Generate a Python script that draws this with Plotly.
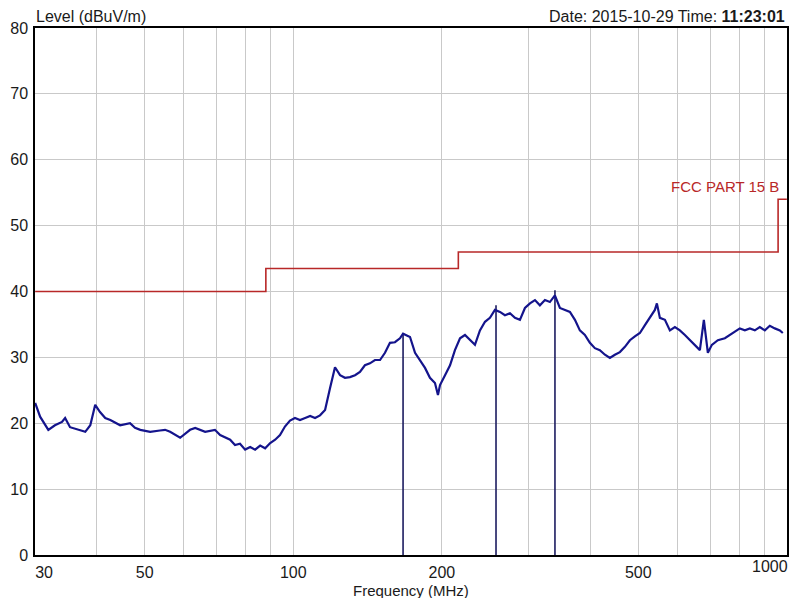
import plotly.graph_objects as go

# Measured trace (frequency in MHz, level in dBuV/m)
freq_mhz = [30.0, 30.7, 31.9, 32.9, 34.0, 34.5, 35.3, 37.0, 37.9, 38.8, 39.7, 40.6, 41.6, 42.6,
            44.6, 46.7, 47.8, 49.0, 51.3, 53.7, 55.0, 56.3, 59.0, 61.8, 63.3, 66.3, 69.4, 71.1,
            74.5, 76.2, 78.0, 79.9, 81.8, 83.7, 85.7, 87.7, 89.8, 91.9, 94.0, 96.2, 98.5, 100.8,
            103.2, 105.7, 108.2, 110.7, 113.3, 116.0, 117.6, 118.7, 121.5, 124.4, 127.3, 130.3,
            133.4, 136.5, 139.7, 143.0, 146.4, 149.9, 153.4, 157.0, 160.7, 164.5, 166.9, 170.8,
            172.4, 176.5, 180.6, 184.9, 189.2, 193.7, 196.4, 198.3, 203.0, 207.8, 212.6, 217.7,
            222.8, 228.1, 233.4, 238.9, 244.6, 250.3, 256.2, 262.3, 268.4, 274.8, 281.3, 287.9,
            294.7, 301.7, 308.8, 316.0, 323.5, 331.1, 338.9, 346.9, 355.1, 363.5, 372.1, 380.8,
            389.8, 399.0, 408.4, 418.0, 428.0, 438.0, 448.3, 458.9, 469.8, 480.9, 492.2, 503.8,
            515.8, 527.9, 540.3, 545.4, 553.1, 566.2, 579.5, 593.2, 607.1, 621.5, 636.2, 651.2,
            666.5, 679.0, 691.8, 704.8, 724.8, 748.9, 766.4, 784.5, 803.0, 822.1, 841.5, 861.3,
            881.5, 902.4, 923.6, 945.4, 967.7, 981.3]
level_dbuv = [23.1, 21.0, 19.0, 19.7, 20.2, 20.8, 19.4, 19.0, 18.7, 19.7, 22.8, 21.7, 20.8, 20.5,
              19.7, 20.0, 19.3, 19.0, 18.7, 18.9, 19.0, 18.7, 17.8, 19.0, 19.3, 18.7, 19.0, 18.2,
              17.5, 16.7, 16.9, 16.0, 16.4, 16.0, 16.6, 16.2, 17.0, 17.5, 18.2, 19.5, 20.4, 20.8,
              20.5, 20.8, 21.1, 20.8, 21.2, 22.0, 24.3, 25.3, 28.5, 27.3, 26.9, 27.0, 27.3, 27.8,
              28.8, 29.1, 29.6, 29.6, 30.7, 32.2, 32.3, 32.9, 33.6, 33.2, 33.1, 30.7, 29.6, 28.4,
              26.9, 26.1, 24.3, 25.8, 27.3, 28.8, 31.1, 32.9, 33.4, 32.6, 31.9, 34.1, 35.4, 36.0,
              37.2, 36.9, 36.4, 36.7, 36.0, 35.7, 37.5, 38.2, 38.7, 37.9, 38.7, 38.4, 39.4, 37.5,
              37.2, 36.9, 35.7, 34.1, 33.4, 32.2, 31.4, 31.1, 30.4, 29.9, 30.4, 30.8, 31.6, 32.6,
              33.2, 33.7, 34.9, 36.0, 37.2, 38.2, 36.0, 35.7, 34.1, 34.6, 34.1, 33.4, 32.6, 31.9,
              31.1, 35.7, 30.7, 31.9, 32.6, 32.9, 33.4, 33.8, 34.4, 34.1, 34.4, 34.1, 34.6, 34.1,
              34.8, 34.4, 34.1, 33.7]

# FCC Part 15 B limit (step line)
limit_freq = [30, 88, 216, 960, 1000]
limit_level = [40, 43.5, 46, 54, 54]

# Markers
marker_freq = [166.9, 257.5, 339.0]
marker_level = [33.6, 37.9, 40.2]
marker_label = ["1", "2", "3"]

# Axis ticks
NB = "\u00a0"
grid_vals = [30, 40, 50, 60, 70, 80, 90, 100, 200, 300, 400, 500, 600, 700, 800, 900, 1000]
labeled = {30: NB * 4 + "30", 50: "50", 100: "100", 200: "200", 500: "500"}
tick_text = [labeled.get(v, "") for v in grid_vals]
end_label = "1000"
y_vals = [0, 10, 20, 30, 40, 50, 60, 70, 80]

FONT = "Liberation Sans, Arial, sans-serif"
TXT = "#1a1a1a"

fig = go.Figure()

fig.add_trace(go.Scatter(x=limit_freq, y=limit_level, mode="lines", line_shape="hv",
                         line=dict(color="#b82828", width=1.6), hoverinfo="skip"))

mx, my = [], []
for f, l in zip(marker_freq, marker_level):
    mx += [f, f, None]
    my += [0, l, None]
fig.add_trace(go.Scatter(x=mx, y=my, mode="lines", line=dict(color="#1c1c60", width=1.6)))

fig.add_trace(go.Scatter(x=freq_mhz, y=level_dbuv, mode="lines",
                         line=dict(color="#14148c", width=2.2)))

for f, l, t in zip(marker_freq, marker_level, marker_label):
    fig.add_annotation(x=f, y=l, xref="x", yref="y", text=t, showarrow=False,
                       yshift=11, font=dict(family=FONT, size=14, color="#3a3a80"))

fig.add_annotation(x=1, xref="paper", y=54, yref="y", text="FCC PART 15 B", showarrow=False,
                   xanchor="right", yanchor="bottom", xshift=-6, yshift=2,
                   font=dict(family=FONT, size=15, color="#b82828"))

fig.add_annotation(x=0, xref="paper", y=1, yref="paper", text="Level (dBuV/m)", showarrow=False,
                   xanchor="left", yanchor="bottom", xshift=-1, yshift=1,
                   font=dict(family=FONT, size=16, color=TXT))
fig.add_annotation(x=1, xref="paper", y=1, yref="paper",
                   text="Date: 2015-10-29 Time: <b>11:23:01</b>", showarrow=False,
                   xanchor="right", yanchor="bottom", xshift=0, yshift=1,
                   font=dict(family=FONT, size=16, color=TXT))
fig.add_annotation(x=1, xref="paper", y=0, yref="paper", text=end_label, showarrow=False,
                   xanchor="right", yanchor="top", xshift=3, yshift=-1,
                   font=dict(family=FONT, size=16, color=TXT))
fig.add_annotation(x=0.5, xref="paper", y=0, yref="paper", text="Frequency (MHz)",
                   showarrow=False, xanchor="center", yanchor="middle", yshift=-35,
                   font=dict(family=FONT, size=15, color=TXT))

fig.update_layout(
    width=784, height=590,
    margin=dict(l=27, r=5, t=20, b=43),
    paper_bgcolor="white", plot_bgcolor="white",
    showlegend=False,
    font=dict(family=FONT, size=16, color=TXT),
)
fig.update_xaxes(type="log", range=[1.4768, 3.0003], tickvals=grid_vals, ticktext=tick_text,
                 automargin=False,
                 showgrid=True, gridcolor="#c9c9c9", gridwidth=1,
                 showline=True, linecolor="black", linewidth=1.5, mirror=True,
                 ticks="", ticklabeloverflow="allow", ticklabelstandoff=2,
                 tickfont=dict(family=FONT, size=16, color=TXT),
                 zeroline=False)
fig.update_yaxes(range=[0, 80], tickvals=y_vals, automargin=False,
                 showgrid=True, gridcolor="#c9c9c9", gridwidth=1,
                 showline=True, linecolor="black", linewidth=1.5, mirror=True,
                 ticks="", ticklabelstandoff=2, tickfont=dict(family=FONT, size=16, color=TXT),
                 zeroline=False)

fig.write_html("out.html")
